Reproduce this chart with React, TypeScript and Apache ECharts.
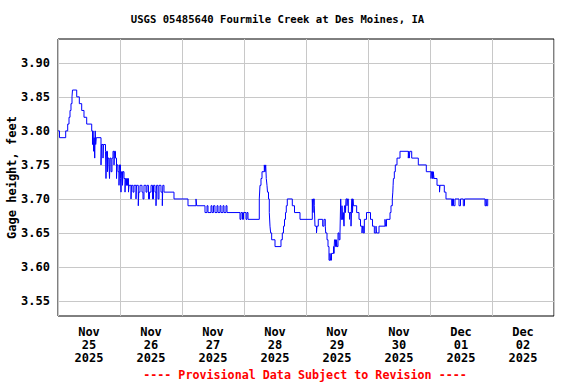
import React, { useEffect, useRef } from "react";
import * as echarts from "echarts";

const chartTitle = "USGS 05485640 Fourmile Creek at Des Moines, IA";
const yAxisTitle = "Gage height, feet";
const footerNote = "---- Provisional Data Subject to Revision ----";

// Day labels (centered on each day)
const dayLabels = [
  "Nov\n25\n2025",
  "Nov\n26\n2025",
  "Nov\n27\n2025",
  "Nov\n28\n2025",
  "Nov\n29\n2025",
  "Nov\n30\n2025",
  "Dec\n01\n2025",
  "Dec\n02\n2025",
];

const yTickValues = [3.55, 3.6, 3.65, 3.7, 3.75, 3.8, 3.85, 3.9];

// Hours since 2025-11-25 00:00 and gage height (ft)
const hoursSinceStart = [
  0.0, 0.58, 2.98, 3.75, 4.26, 4.65, 5.03, 5.42, 5.61, 7.24, 8.25, 9.17, 10.06, 11.11,
  13.05, 13.35, 13.55, 13.82, 14.01, 14.21, 14.4, 14.59, 14.83, 16.65, 16.84, 17.42,
  17.61, 18.39, 18.58, 18.77, 19.16, 19.35, 19.74, 19.94, 20.13, 20.52, 20.9, 21.29,
  21.68, 21.87, 22.26, 22.65, 22.84, 23.23, 23.61, 23.81, 24.19, 24.39, 24.58, 24.97,
  25.16, 25.55, 25.94, 26.13, 26.52, 26.9, 27.29, 27.48, 28.26, 28.45, 29.03, 29.42,
  30.19, 30.39, 31.08, 31.27, 31.74, 32.52, 32.9, 33.29, 34.06, 34.45, 35.03, 35.42,
  36.0, 36.58, 36.97, 37.55, 37.94, 38.13, 38.71, 39.1, 39.87, 40.38, 40.57, 41.03,
  44.9, 50.32, 53.42, 53.69, 56.9, 57.68, 58.06, 59.23, 59.61, 60.19, 60.77, 61.55,
  61.94, 62.71, 63.1, 63.87, 64.26, 65.03, 65.42, 70.45, 70.84, 71.42, 71.81, 72.77,
  73.16, 73.55, 77.92, 78.19, 78.58, 78.97, 79.86, 80.13, 80.4, 80.63, 80.9, 81.1,
  81.48, 81.79, 82.06, 82.32, 82.71, 84.0, 86.32, 86.83, 87.29, 87.68, 88.06, 88.37,
  88.76, 90.7, 91.55, 93.68, 98.44, 98.71, 98.9, 99.21, 99.48, 100.06, 100.26, 100.76,
  102.46, 102.97, 103.47, 103.63, 104.13, 104.52, 104.9, 105.29, 105.48, 105.87,
  106.65, 106.84, 107.03, 107.42, 107.81, 108.0, 108.39, 108.77, 109.16, 109.43,
  109.66, 109.94, 110.13, 110.44, 110.71, 110.9, 111.29, 111.48, 111.87, 112.06,
  112.39, 112.84, 113.03, 113.42, 113.69, 114.0, 114.19, 114.39, 115.61, 116.52,
  117.1, 117.68, 117.87, 118.19, 118.58, 119.42, 120.97, 121.74, 122.45, 123.1,
  123.29, 124.26, 126.58, 126.77, 127.16, 128.52, 128.9, 129.41, 129.61, 129.72,
  129.84, 130.19, 130.57, 131.23, 132.39, 135.6, 135.79, 135.99, 136.18, 136.92,
  139.47, 142.57, 144.39, 144.58, 144.97, 145.28, 145.55, 146.71, 147.68, 147.87,
  149.54, 150.19, 152.4, 152.71, 153.1, 153.68, 155.23, 155.81, 156.89, 157.36,
  165.29, 165.68, 165.87, 166.34, 166.57,
];

const gageHeightFt = [
  3.8, 3.79, 3.8, 3.81, 3.82, 3.83, 3.84, 3.85, 3.86, 3.85, 3.84, 3.83, 3.82, 3.81,
  3.8, 3.78, 3.8, 3.77, 3.79, 3.76, 3.8, 3.78, 3.79, 3.75, 3.78, 3.76,
  3.78, 3.77, 3.73, 3.77, 3.74, 3.76, 3.75, 3.73, 3.76, 3.74, 3.76, 3.77,
  3.75, 3.77, 3.76, 3.73, 3.75, 3.74, 3.72, 3.75, 3.73, 3.71, 3.74, 3.72,
  3.74, 3.73, 3.71, 3.73, 3.72, 3.73, 3.71, 3.72, 3.7, 3.72, 3.71, 3.72,
  3.7, 3.72, 3.69, 3.71, 3.72, 3.71, 3.7, 3.72, 3.71, 3.72, 3.7, 3.71,
  3.72, 3.7, 3.72, 3.71, 3.69, 3.72, 3.7, 3.72, 3.71, 3.69, 3.72, 3.71,
  3.7, 3.69, 3.7, 3.69, 3.68, 3.69, 3.68, 3.69, 3.68, 3.69, 3.68, 3.69,
  3.68, 3.69, 3.68, 3.69, 3.68, 3.69, 3.68, 3.67, 3.68, 3.67, 3.68, 3.67,
  3.68, 3.67, 3.7, 3.72, 3.73, 3.74, 3.75, 3.74, 3.75, 3.73, 3.72, 3.71,
  3.7, 3.68, 3.66, 3.65, 3.64, 3.63, 3.64, 3.65, 3.66, 3.67, 3.68, 3.69,
  3.7, 3.69, 3.68, 3.67, 3.7, 3.68, 3.7, 3.69, 3.66, 3.65, 3.66, 3.67,
  3.66, 3.67, 3.66, 3.65, 3.64, 3.63, 3.61, 3.62, 3.61, 3.62,
  3.63, 3.62, 3.64, 3.63, 3.64, 3.63, 3.65, 3.64, 3.65, 3.7,
  3.67, 3.69, 3.67, 3.68, 3.66, 3.69, 3.68, 3.7, 3.69, 3.7,
  3.68, 3.67, 3.68, 3.66, 3.7, 3.68, 3.7, 3.69, 3.68, 3.67,
  3.66, 3.65, 3.66, 3.65, 3.67, 3.68, 3.67, 3.66, 3.65, 3.66,
  3.65, 3.66, 3.67, 3.66, 3.67, 3.68, 3.69, 3.7, 3.71, 3.72,
  3.73, 3.74, 3.75, 3.76, 3.77, 3.76, 3.77, 3.76, 3.77, 3.76,
  3.75, 3.74, 3.73, 3.74, 3.73, 3.74, 3.73, 3.72, 3.71, 3.72,
  3.71, 3.7, 3.69, 3.7, 3.69, 3.7, 3.69, 3.7, 3.69, 3.7,
  3.69, 3.7, 3.69, 3.7, 3.7,
];

const FONT = "'DejaVu Sans Mono', 'Liberation Mono', monospace";

export default function App() {
  const ref = useRef<HTMLDivElement>(null);

  useEffect(() => {
    if (!ref.current) return;
    const chart = echarts.init(ref.current, null, { renderer: "svg" });
    const data = hoursSinceStart.map((h, i) => [h, gageHeightFt[i]]);

    chart.setOption({
      animation: false,
      backgroundColor: "#ffffff",
      textStyle: { fontFamily: FONT },
      grid: {
        left: 58,
        top: 39,
        right: 22,
        bottom: 68,
        show: true,
        borderColor: "#000000",
        borderWidth: 1,
        backgroundColor: "#ffffff",
        containLabel: false,
        outerBoundsMode: "none",
      },
      xAxis: [
        {
          type: "category",
          data: dayLabels,
          boundaryGap: true,
          axisLine: { show: false },
          axisTick: { show: false },
          splitLine: { show: true, interval: 0, lineStyle: { color: "#c8c8c8", width: 1 } },
          axisLabel: {
            interval: 0,
            margin: 9,
            color: "#000000",
            fontFamily: FONT,
            fontWeight: "bold",
            fontSize: 12,
            lineHeight: 13,
          },
        },
        {
          type: "value",
          min: 0,
          max: 192,
          show: false,
        },
      ],
      yAxis: {
        type: "value",
        min: 3.528,
        max: 3.935,
        name: yAxisTitle,
        nameLocation: "middle",
        nameRotate: 90,
        nameGap: 40,
        nameMoveOverlap: false,
        nameTextStyle: {
          color: "#000000",
          fontFamily: FONT,
          fontWeight: "bold",
          fontSize: 12,
        },
        axisLine: { show: false },
        axisTick: { show: false, customValues: yTickValues },
        splitLine: { show: true, lineStyle: { color: "#c8c8c8", width: 1 } },
        axisLabel: {
          customValues: yTickValues,
          margin: 8,
          color: "#000000",
          fontFamily: FONT,
          fontWeight: "bold",
          fontSize: 12,
          formatter: (v: number) => v.toFixed(2),
        },
      },
      series: [
        {
          type: "line",
          xAxisIndex: 1,
          data,
          step: "end",
          showSymbol: false,
          symbol: "none",
          lineStyle: { color: "#0000ff", width: 1 },
          z: 5,
        },
      ],
      graphic: [
        {
          type: "text",
          x: 277.5,
          y: 19,
          style: {
            text: chartTitle,
            fill: "#000000",
            font: `bold 10.6px ${FONT}`,
            textAlign: "center",
            textVerticalAlign: "middle",
          },
        },
        {
          type: "text",
          x: 305,
          y: 375,
          style: {
            text: footerNote,
            fill: "#ff0000",
            font: `bold 11.7px ${FONT}`,
            textAlign: "center",
            textVerticalAlign: "middle",
          },
        },
      ],
    });

    return () => chart.dispose();
  }, []);

  return <div ref={ref} style={{ width: 576, height: 384, position: "absolute", left: 0, top: 0 }} />;
}
